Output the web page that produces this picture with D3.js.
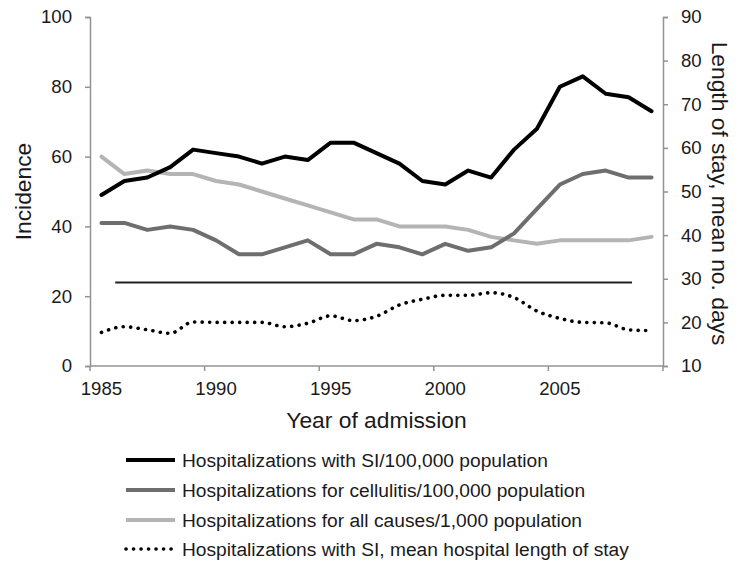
<!DOCTYPE html>
<html>
<head>
<meta charset="utf-8">
<script src="https://cdn.jsdelivr.net/npm/d3@7/dist/d3.min.js"></script>
<style>
  html, body { margin: 0; padding: 0; background: #fff; }
  svg { display: block; font-family: "Liberation Sans", Arial, sans-serif; }
</style>
</head>
<body>
<svg id="chart" width="750" height="582"></svg>
<script>
// ---- Data ----
const years = d3.range(1985, 2010);
const siIncidence = [49, 53, 54, 57, 62, 61, 60, 58, 60, 59, 64, 64, 61, 58, 53, 52, 56, 54, 62, 68, 80, 83, 78, 77, 73];
const cellulitisIncidence = [41, 41, 39, 40, 39, 36, 32, 32, 34, 36, 32, 32, 35, 34, 32, 35, 33, 34, 38, 45, 52, 55, 56, 54, 54];
const allCausesIncidence = [60, 55, 56, 55, 55, 53, 52, 50, 48, 46, 44, 42, 42, 40, 40, 40, 39, 37, 36, 35, 36, 36, 36, 36, 37];
const siLengthOfStay = [17.7, 19, 18.3, 17.5, 20.1, 20, 20, 20, 19, 19.8, 21.5, 20.4, 21.4, 24, 25.3, 26.2, 26.2, 26.8, 25.7, 22.6, 20.9, 20, 19.9, 18.3, 18.1];
const referenceLine = { value: 23.9, fromYear: 1985.6, toYear: 2008.15 };
const leftTicks = [0, 20, 40, 60, 80, 100];
const rightTicks = [10, 20, 30, 40, 50, 60, 70, 80, 90];
const xTickLabels = [1985, 1990, 1995, 2000, 2005];
const seriesNames = [
  "Hospitalizations with SI/100,000 population",
  "Hospitalizations for cellulitis/100,000 population",
  "Hospitalizations for all causes/1,000 population",
  "Hospitalizations with SI, mean hospital length of stay"
];

// ---- Layout ----
const plot = { left: 90, right: 663, top: 17, bottom: 366 };
const svg = d3.select("#chart");

const x = d3.scaleBand().domain(years).range([plot.left, plot.right]).paddingInner(0).paddingOuter(0);
const xc = d => x(d) + x.bandwidth() / 2;
const xLin = d3.scaleLinear().domain([1985, 2009]).range([xc(1985), xc(2009)]);
const yL = d3.scaleLinear().domain([0, 100]).range([plot.bottom, plot.top]);
const yR = d3.scaleLinear().domain([10, 90]).range([plot.bottom, plot.top]);

const axisColor = "#939393";
const textColor = "#1a1a1a";
const tickFont = 18.6;
const titleFont = 22.8;

// X axis (category boundaries every 5 years)
const xAxisG = svg.append("g").attr("transform", `translate(0,${plot.bottom})`);
xAxisG.append("line").attr("x1", plot.left).attr("x2", plot.right).attr("y1", 0).attr("y2", 0)
  .attr("stroke", axisColor).attr("stroke-width", 1.5);
const boundaryYears = [1985, 1990, 1995, 2000, 2005];
xAxisG.selectAll("line.tick").data(boundaryYears).enter().append("line")
  .attr("x1", d => x(d)).attr("x2", d => x(d)).attr("y1", 0).attr("y2", 5)
  .attr("stroke", axisColor).attr("stroke-width", 1.5);
xAxisG.append("line").attr("x1", plot.right).attr("x2", plot.right).attr("y1", 0).attr("y2", 5)
  .attr("stroke", axisColor).attr("stroke-width", 1.5);
xAxisG.selectAll("text").data(xTickLabels).enter().append("text")
  .attr("x", d => xc(d)).attr("y", 29)
  .attr("text-anchor", "middle").attr("font-size", tickFont).attr("fill", textColor)
  .text(d => d);

// Left axis
const yLAxis = d3.axisLeft(yL).tickValues(leftTicks).tickSize(5).tickPadding(13);
const gL = svg.append("g").attr("transform", `translate(${plot.left},0)`).call(yLAxis);
gL.select(".domain").attr("stroke", axisColor).attr("stroke-width", 1.5);
gL.selectAll(".tick line").attr("stroke", axisColor).attr("stroke-width", 1.5);
gL.selectAll(".tick text").attr("font-size", tickFont).attr("fill", textColor).attr("font-family", "Liberation Sans, Arial, sans-serif");

// Right axis
const yRAxis = d3.axisRight(yR).tickValues(rightTicks).tickSize(5).tickPadding(13);
const gR = svg.append("g").attr("transform", `translate(${plot.right},0)`).call(yRAxis);
gR.select(".domain").attr("stroke", axisColor).attr("stroke-width", 1.5);
gR.selectAll(".tick line").attr("stroke", axisColor).attr("stroke-width", 1.5);
gR.selectAll(".tick text").attr("font-size", tickFont).attr("fill", textColor).attr("font-family", "Liberation Sans, Arial, sans-serif");

// Axis titles
svg.append("text")
  .attr("transform", `translate(31,${(plot.top + plot.bottom) / 2}) rotate(-90)`)
  .attr("text-anchor", "middle").attr("font-size", titleFont).attr("fill", textColor)
  .text("Incidence");
svg.append("text")
  .attr("transform", `translate(712,${(plot.top + plot.bottom) / 2 + 2}) rotate(90)`)
  .attr("text-anchor", "middle").attr("font-size", titleFont).attr("fill", textColor)
  .text("Length of stay, mean no. days");
svg.append("text")
  .attr("x", (plot.left + plot.right) / 2).attr("y", 428)
  .attr("text-anchor", "middle").attr("font-size", titleFont).attr("fill", textColor)
  .text("Year of admission");

// Reference horizontal line
svg.append("line")
  .attr("x1", xLin(referenceLine.fromYear)).attr("x2", xLin(referenceLine.toYear))
  .attr("y1", yL(referenceLine.value)).attr("y2", yL(referenceLine.value))
  .attr("stroke", "#222").attr("stroke-width", 2);

// Series
const styles = [
  { color: "#000000", width: 4, dash: null },
  { color: "#6e6e6e", width: 4, dash: null },
  { color: "#b4b4b4", width: 4, dash: null },
  { color: "#000000", width: 3.6, dash: "0.1 7.4" }
];

const lineL = d3.line().x((d, i) => xc(years[i])).y(d => yL(d));
const lineR = d3.line().x((d, i) => xc(years[i])).y(d => yR(d)).curve(d3.curveMonotoneX);

[allCausesIncidence, cellulitisIncidence, siIncidence].forEach((arr, k) => {
  const s = styles[2 - k];
  svg.append("path").datum(arr).attr("d", lineL)
    .attr("fill", "none").attr("stroke", s.color).attr("stroke-width", s.width)
    .attr("stroke-linejoin", "round").attr("stroke-linecap", "round");
});
svg.append("path").datum(siLengthOfStay).attr("d", lineR)
  .attr("fill", "none").attr("stroke", styles[3].color).attr("stroke-width", styles[3].width)
  .attr("stroke-dasharray", styles[3].dash).attr("stroke-linecap", "round");

// Legend
const legendRows = [460, 490, 520, 549];
const lg = svg.append("g");
seriesNames.forEach((name, i) => {
  const s = styles[i];
  const yy = legendRows[i];
  lg.append("line").attr("x1", 126).attr("x2", 175).attr("y1", yy).attr("y2", yy)
    .attr("stroke", s.color).attr("stroke-width", s.width)
    .attr("stroke-dasharray", s.dash).attr("stroke-linecap", s.dash ? "round" : "butt");
  lg.append("text").attr("x", 182).attr("y", yy + 7)
    .attr("font-size", 19.2).attr("fill", textColor).text(name);
});
</script>
</body>
</html>
